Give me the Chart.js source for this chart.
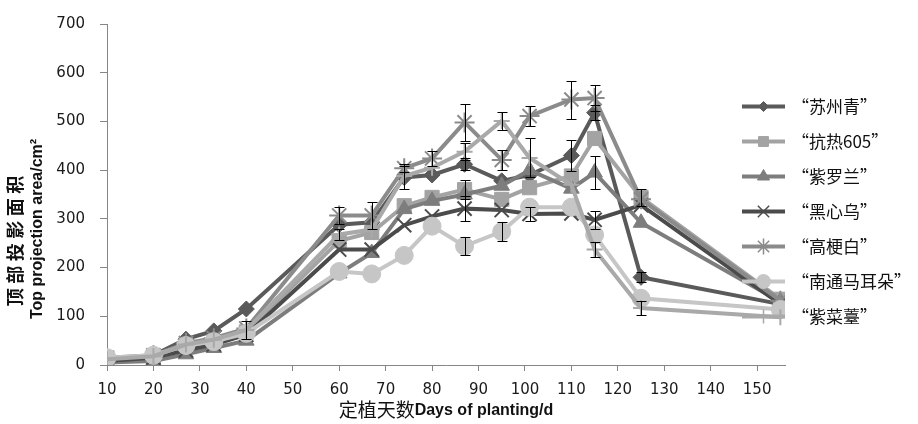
<!DOCTYPE html>
<html>
<head>
<meta charset="utf-8">
<script src="https://cdn.jsdelivr.net/npm/chart.js@4.4.1/dist/chart.umd.min.js"></script>
<style>
  html, body { margin: 0; padding: 0; background: #fff; }
  #wrap { width: 918px; height: 424px; }
</style>
</head>
<body>
<div id="wrap"><canvas id="chart" width="918" height="424"></canvas></div>
<script>
// planting days (x) and tick labels
const days = [10, 20, 27, 33, 40, 60, 67, 74, 80, 87, 95, 101, 110, 115, 125, 155];
const xTickValues = [10, 20, 30, 40, 50, 60, 70, 80, 90, 100, 110, 120, 130, 140, 150];

const seriesLabels = ["“苏州青”", "“抗热605”", "“紫罗兰”", "“黑心乌”", "“高梗白”", "“南通马耳朵”", "“紫菜薹”"];

// top projection area, cm2
const suzhouqing = [10, 20, 53, 70, 115, 288, 293, 385, 390, 412, 378, 390, 430, 518, 180, 125];
const kangre605 = [12, 18, 40, 48, 68, 255, 272, 327, 344, 360, 340, 364, 388, 465, 344, 135];
const ziluolan = [5, 8, 22, 35, 50, 188, 230, 320, 337, 350, 368, 400, 362, 395, 292, 130];
const heixinwu = [8, 15, 30, 42, 62, 237, 237, 287, 305, 321, 318, 310, 311, 298, 328, 125];
const gaogengbai = [15, 20, 45, 55, 75, 307, 307, 404, 424, 498, 421, 511, 545, 548, 340, 132];
const nantong = [15, 20, 40, 48, 65, 192, 187, 225, 285, 244, 274, 324, 324, 267, 137, 114];
const zicaitai = [12, 18, 42, 52, 72, 268, 278, 388, 405, 438, 501, 425, 370, 237, 117, 98];

// error bar half lengths (0 where no bar shows past the markers)
const suzhouqingErr = [0, 0, 0, 0, 0, 0, 0, 24, 0, 12, 0, 0, 31, 15, 10, 0];
const kangre605Err = [0, 0, 0, 0, 0, 0, 0, 0, 0, 20, 0, 0, 0, 0, 17, 0];
const ziluolanErr = [0, 0, 0, 0, 0, 0, 0, 0, 0, 0, 0, 0, 0, 34, 0, 0];
const heixinwuErr = [0, 0, 0, 0, 0, 0, 0, 0, 0, 26, 0, 15, 0, 18, 0, 0];
const gaogengbaiErr = [0, 0, 0, 0, 0, 18, 28, 8, 15, 38, 20, 20, 39, 26, 0, 0];
const nantongErr = [0, 0, 0, 0, 0, 0, 0, 0, 0, 18, 19, 0, 0, 0, 0, 0];
const zicaitaiErr = [0, 0, 0, 0, 18, 12, 0, 0, 0, 18, 18, 40, 0, 16, 15, 0];

const seriesValues = [suzhouqing, kangre605, ziluolan, heixinwu, gaogengbai, nantong, zicaitai];
const seriesErrors = [suzhouqingErr, kangre605Err, ziluolanErr, heixinwuErr, gaogengbaiErr, nantongErr, zicaitaiErr];

const seriesColors = ["#5a5a5a", "#a3a3a3", "#7d7d7d", "#4b4b4b", "#8b8b8b", "#c6c6c6", "#a9a9a9"];
const seriesMarkers = ["rectRot", "rect", "triangle", "crossRot", "star", "circle", "cross"];
const markerRadius = { rectRot: 8, rect: 10, triangle: 9, crossRot: 10, star: 10, circle: 9, cross: 8 };
const legendRadius = { rectRot: 5, rect: 7, triangle: 7, crossRot: 8, star: 8, circle: 7, cross: 7 };
const lineMarkers = ["crossRot", "star", "cross"];

const AXIS_COLOR = "#868686";

const datasets = seriesValues.map((vals, i) => {
  const marker = seriesMarkers[i];
  const isLine = lineMarkers.includes(marker);
  return {
    label: seriesLabels[i],
    data: days.map((d, k) => ({ x: d, y: vals[k] })),
    errors: seriesErrors[i],
    borderColor: seriesColors[i],
    backgroundColor: seriesColors[i],
    borderWidth: 4,
    tension: 0,
    fill: false,
    pointStyle: marker,
    pointRadius: markerRadius[marker],
    pointHoverRadius: markerRadius[marker],
    pointBackgroundColor: seriesColors[i],
    pointBorderColor: seriesColors[i],
    pointBorderWidth: isLine ? 2 : 1,
    order: seriesValues.length - 1 - i
  };
});

const errorBars = {
  id: "errorBars",
  afterDatasetsDraw(chart) {
    const ctx = chart.ctx;
    const yScale = chart.scales.y;
    ctx.save();
    ctx.strokeStyle = "#000";
    ctx.lineWidth = 1;
    chart.data.datasets.forEach((ds, i) => {
      const meta = chart.getDatasetMeta(i);
      meta.data.forEach((pt, k) => {
        const e = ds.errors[k];
        if (!e) return;
        const v = ds.data[k].y;
        const yTop = Math.round(yScale.getPixelForValue(v + e)) + 0.5;
        const yBot = Math.round(yScale.getPixelForValue(v - e)) + 0.5;
        const x = Math.round(pt.x) + 0.5;
        ctx.beginPath();
        ctx.moveTo(x, yTop);
        ctx.lineTo(x, yBot);
        ctx.moveTo(x - 5, yTop);
        ctx.lineTo(x + 5, yTop);
        ctx.moveTo(x - 5, yBot);
        ctx.lineTo(x + 5, yBot);
        ctx.stroke();
      });
    });
    ctx.restore();
  }
};

const sideLegend = {
  id: "sideLegend",
  afterDraw(chart) {
    const ctx = chart.ctx;
    ctx.save();
    seriesLabels.forEach((label, i) => {
      const y = 106.5 + i * 35;
      const marker = seriesMarkers[i];
      ctx.strokeStyle = seriesColors[i];
      ctx.fillStyle = seriesColors[i];
      ctx.lineWidth = 4;
      ctx.beginPath();
      ctx.moveTo(742, y);
      ctx.lineTo(785, y);
      ctx.stroke();
      ctx.lineWidth = lineMarkers.includes(marker) ? 1.5 : 1;
      Chart.helpers.drawPoint(ctx, {
        pointStyle: marker,
        radius: legendRadius[marker],
        rotation: 0,
        borderWidth: ctx.lineWidth
      }, 763.5, y);
      ctx.fillStyle = "#111";
      ctx.textAlign = "left";
      ctx.textBaseline = "middle";
      ctx.font = "17px \"Noto Sans CJK SC\", sans-serif";
      ctx.fillText(label, 792, y);
    });
    ctx.restore();
  }
};

const axisTitles = {
  id: "axisTitles",
  afterDraw(chart) {
    const ctx = chart.ctx;
    ctx.save();
    ctx.fillStyle = "#111";
    ctx.textBaseline = "middle";

    // y title: two rotated lines
    const cn = "顶部投影面积";
    ctx.save();
    ctx.translate(15, 241);
    ctx.rotate(-Math.PI / 2);
    ctx.font = "bold 18px \"Noto Sans CJK SC\", serif";
    ctx.textAlign = "center";
    const step = 22.5;
    for (let i = 0; i < cn.length; i++) {
      ctx.fillText(cn[i], (i - (cn.length - 1) / 2) * step, 0);
    }
    ctx.restore();

    ctx.save();
    ctx.translate(38, 229);
    ctx.rotate(-Math.PI / 2);
    ctx.font = "bold 16px \"Liberation Sans\", Arial, sans-serif";
    ctx.textAlign = "center";
    ctx.fillText("Top projection area/cm²", 0, 0);
    ctx.restore();

    // x title: chinese + english
    const cnX = "定植天数";
    const enX = "Days of planting/d";
    ctx.font = "19px \"Noto Sans CJK SC\", sans-serif";
    const wCn = ctx.measureText(cnX).width;
    ctx.font = "bold 16px \"Liberation Sans\", Arial, sans-serif";
    const wEn = ctx.measureText(enX).width;
    const x0 = 446 - (wCn + wEn) / 2;
    ctx.textAlign = "left";
    ctx.font = "19px \"Noto Sans CJK SC\", sans-serif";
    ctx.fillText(cnX, x0, 410);
    ctx.font = "bold 16px \"Liberation Sans\", Arial, sans-serif";
    ctx.fillText(enX, x0 + wCn, 411);
    ctx.restore();
  }
};

new Chart(document.getElementById("chart"), {
  type: "line",
  data: { datasets },
  plugins: [errorBars, sideLegend, axisTitles],
  options: {
    responsive: false,
    animation: false,
    layout: { padding: { top: 16, right: 133, bottom: 0, left: 0 } },
    plugins: {
      legend: { display: false },
      tooltip: { enabled: false },
      title: { display: false }
    },
    scales: {
      x: {
        type: "linear",
        min: 10,
        max: 156,
        afterBuildTicks: (scale) => {
          scale.ticks = xTickValues.map((v) => ({ value: v }));
        },
        afterFit: (scale) => { scale.height = 59; },
        grid: {
          display: true,
          drawOnChartArea: false,
          drawTicks: true,
          tickLength: 6,
          color: AXIS_COLOR
        },
        border: { display: true, color: AXIS_COLOR, width: 1 },
        ticks: {
          autoSkip: false,
          maxRotation: 0,
          padding: 10,
          color: "#1a1a1a",
          font: { family: "\"DejaVu Sans\", sans-serif", size: 15 }
        }
      },
      y: {
        min: 0,
        max: 700,
        afterFit: (scale) => { scale.width = 107; },
        grid: {
          display: true,
          drawOnChartArea: false,
          drawTicks: true,
          tickLength: 7,
          color: AXIS_COLOR
        },
        border: { display: true, color: AXIS_COLOR, width: 1 },
        ticks: {
          stepSize: 100,
          padding: 15,
          color: "#1a1a1a",
          font: { family: "\"DejaVu Sans\", sans-serif", size: 15 }
        }
      }
    }
  }
});
</script>
</body>
</html>
